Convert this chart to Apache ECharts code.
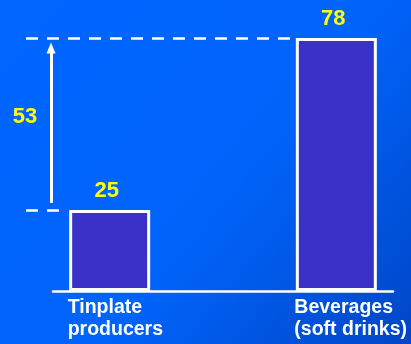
<!DOCTYPE html>
<html>
<head>
<meta charset="utf-8">
<script src="https://cdn.jsdelivr.net/npm/echarts@6/dist/echarts.min.js"></script>
<style>
  html, body { margin: 0; padding: 0; background: #0066ff; }
  #chart { width: 411px; height: 344px; }
</style>
</head>
<body>
<div id="chart"></div>
<script>
// Categories (the middle slot is an empty spacer between the two bars)
const categories = ['Tinplate\nproducers', '', 'Beverages\n(soft drinks)'];
const values = [25, null, 78];
const lowIndex = 0;
const highIndex = 2;

const FONT = '"Liberation Sans", Arial, Helvetica, sans-serif';
const BAR_WIDTH = 81;
const BORDER = 3;

const chart = echarts.init(document.getElementById('chart'), null, { renderer: 'canvas' });

chart.setOption({
  animation: false,
  backgroundColor: {
    type: 'linear', x: 0, y: 0, x2: 1, y2: 1,
    colorStops: [
      { offset: 0, color: '#0066ff' },
      { offset: 0.55, color: '#0064fb' },
      { offset: 1, color: '#0046c6' }
    ]
  },
  grid: { left: 53, right: 18, top: 31.5, bottom: 53 },
  xAxis: {
    type: 'category',
    data: categories,
    axisLine: { lineStyle: { color: '#ffffff', width: 2.5 } },
    axisTick: { show: false },
    axisLabel: {
      margin: 6,
      interval: 0,
      formatter: v => v ? v.split('\n').map(s => '{t|' + s + '}').join('\n') : '',
      rich: {
        t: {
          width: BAR_WIDTH + BORDER, align: 'left',
          color: '#ffffff', fontSize: 19.5, fontWeight: 'bold',
          fontFamily: FONT, lineHeight: 22
        }
      }
    }
  },
  yAxis: { type: 'value', min: 0, max: 80, show: false },
  series: [{
    type: 'bar',
    data: values,
    barWidth: BAR_WIDTH,
    clip: false,
    itemStyle: { color: '#3a32c8', borderColor: '#ffffff', borderWidth: BORDER },
    label: {
      show: true, position: 'top', distance: 8, offset: [-3, 0],
      color: '#ffff00', fontSize: 22, fontWeight: 'bold', fontFamily: FONT
    }
  }]
});

// Reference lines and the difference arrow, placed from the data through the axes
const yLow = chart.convertToPixel({ yAxisIndex: 0 }, values[lowIndex]);
const yHigh = chart.convertToPixel({ yAxisIndex: 0 }, values[highIndex]);
const half = (BAR_WIDTH + BORDER) / 2;
const lowLeft = chart.convertToPixel({ xAxisIndex: 0 }, lowIndex) - half;
const highLeft = chart.convertToPixel({ xAxisIndex: 0 }, highIndex) - half;
const lineStart = 26;
const arrowX = 51;
const dashStyle = { color: '#ffffff', width: 2.5, type: [12, 9] };
const arrowStyle = { color: '#ffffff', width: 3, type: 'solid' };

chart.setOption({
  series: [{
    markLine: {
      silent: true,
      animation: false,
      symbol: ['none', 'none'],
      label: { show: false },
      data: [
        [
          { x: lineStart, y: yHigh, lineStyle: dashStyle },
          { x: highLeft, y: yHigh, lineStyle: dashStyle }
        ],
        [
          { x: lineStart, y: yLow, lineStyle: dashStyle },
          { x: lowLeft, y: yLow, lineStyle: dashStyle }
        ],
        [
          { x: arrowX, y: yLow - 7, lineStyle: arrowStyle, symbol: 'none' },
          { x: arrowX, y: yHigh + 10, lineStyle: arrowStyle, symbol: 'triangle', symbolSize: [9, 11] }
        ]
      ]
    },
    markPoint: {
      silent: true,
      animation: false,
      symbol: 'circle',
      symbolSize: 0,
      label: {
        show: true, position: 'inside', formatter: '{c}',
        color: '#ffff00', fontSize: 22, fontWeight: 'bold', fontFamily: FONT
      },
      data: [{ x: 25, y: (yLow + yHigh) / 2 - 7, value: values[highIndex] - values[lowIndex] }]
    }
  }]
});
</script>
</body>
</html>
